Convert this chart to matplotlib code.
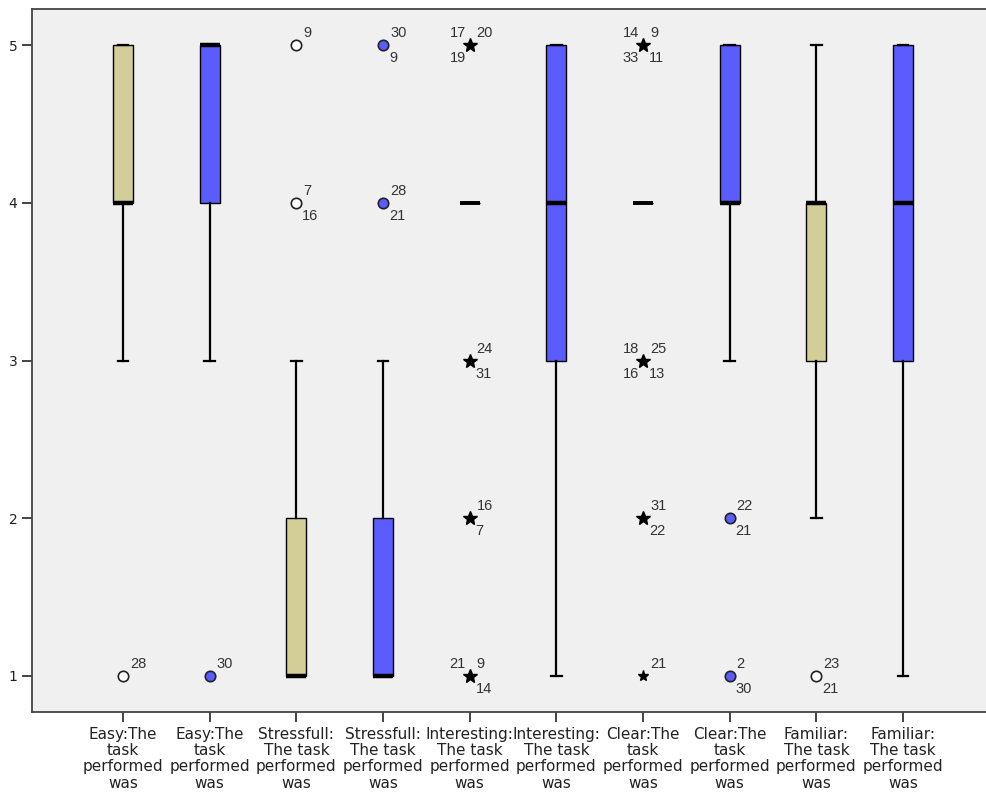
import matplotlib.pyplot as plt
import numpy as np

# box statistics (SPSS style boxplot, Likert 1-5)
labels = ["Easy:The\ntask\nperformed\nwas", "Easy:The\ntask\nperformed\nwas",
          "Stressfull:\nThe task\nperformed\nwas", "Stressfull:\nThe task\nperformed\nwas",
          "Interesting:\nThe task\nperformed\nwas", "Interesting:\nThe task\nperformed\nwas",
          "Clear:The\ntask\nperformed\nwas", "Clear:The\ntask\nperformed\nwas",
          "Familiar:\nThe task\nperformed\nwas", "Familiar:\nThe task\nperformed\nwas"]
q1 = [4, 4, 1, 1, 4, 3, 4, 4, 3, 3]
med = [4, 5, 1, 1, 4, 4, 4, 4, 4, 4]
q3 = [5, 5, 2, 2, 4, 5, 4, 5, 4, 5]
whislo = [3, 3, 1, 1, 4, 1, 4, 3, 2, 1]
whishi = [5, 5, 3, 3, 4, 5, 4, 5, 5, 5]
groups = ["tan", "blue"] * 5

# outliers: (box index, value, kind, [(case label, corner), ...])
outliers = [
    (0, 1, "o", [("28", "ur")]),
    (1, 1, "o", [("30", "ur")]),
    (2, 5, "o", [("9", "ur")]),
    (2, 4, "o", [("7", "ur"), ("16", "lr")]),
    (3, 5, "o", [("30", "ur"), ("9", "lr")]),
    (3, 4, "o", [("28", "ur"), ("21", "lr")]),
    (4, 5, "*", [("17", "ul"), ("20", "ur"), ("19", "ll")]),
    (4, 3, "*", [("24", "ur"), ("31", "lr")]),
    (4, 2, "*", [("16", "ur"), ("7", "lr")]),
    (4, 1, "*", [("21", "ul"), ("9", "ur"), ("14", "lr")]),
    (6, 5, "*", [("14", "ul"), ("9", "ur"), ("33", "ll"), ("11", "lr")]),
    (6, 3, "*", [("18", "ul"), ("25", "ur"), ("16", "ll"), ("13", "lr")]),
    (6, 2, "*", [("31", "ur"), ("22", "lr")]),
    (6, 1, "s", [("21", "ur")]),
    (7, 2, "o", [("22", "ur"), ("21", "lr")]),
    (7, 1, "o", [("2", "ur"), ("30", "lr")]),
    (8, 1, "o", [("23", "ur"), ("21", "lr")]),
]

colors = {"tan": "#d3ce97", "blue": "#5a5cfe"}
corner_fmt = {"ur": ((7, 5), "left", "bottom"), "lr": ((6, -6), "left", "top"),
              "ul": ((-4, 5), "right", "bottom"), "ll": ((-4, -6), "right", "top")}

fig = plt.figure(figsize=(9.87, 7.96), dpi=100)
ax = fig.add_axes([32 / 987, 1 - 712 / 796, 962 / 987, 703 / 796])
ax.set_facecolor("#f0f0f0")

pos = np.arange(1, len(labels) + 1)
stats = []
for i in range(len(labels)):
    stats.append(dict(med=med[i], q1=q1[i], q3=q3[i], whislo=whislo[i],
                      whishi=whishi[i], fliers=[]))
bp = ax.bxp(stats, positions=pos, widths=0.23, capwidths=0.12, patch_artist=True,
            showfliers=False,
            boxprops=dict(edgecolor="black", linewidth=1.0),
            whiskerprops=dict(color="black", linewidth=1.6),
            capprops=dict(color="black", linewidth=1.6),
            medianprops=dict(color="black", linewidth=3.2))
for patch, g in zip(bp["boxes"], groups):
    patch.set_facecolor(colors[g])
for i in range(len(labels)):
    if q1[i] == q3[i]:
        bp["medians"][i].set_linewidth(2.8)

for idx, val, kind, labs in outliers:
    x = pos[idx]
    if kind == "o":
        fc = colors["blue"] if groups[idx] == "blue" else "white"
        ax.plot(x, val, "o", ms=7.5, mfc=fc, mec="#222222", mew=1.2, zorder=4)
    elif kind == "*":
        ax.plot(x, val, "*", ms=10, color="black", zorder=4)
    else:
        ax.plot(x, val, "*", ms=8, color="black", zorder=4)
    for txt, c in labs:
        off, ha, va = corner_fmt[c]
        ax.annotate(txt, (x, val), xytext=off, textcoords="offset pixels",
                    ha=ha, va=va, fontsize=10.5, color="#333333",
                    family=["Liberation Sans", "DejaVu Sans"])

ax.set_xlim(-0.05, 11.05)
ax.set_ylim(0.77, 5.23)
ax.set_yticks([1, 2, 3, 4, 5])
ax.set_xticks(pos)
ax.set_xticklabels(labels, fontsize=11, linespacing=1.12,
                   family=["Liberation Sans Narrow", "DejaVu Sans"])
ax.tick_params(axis="both", direction="out", length=7, width=1.2, colors="#222222")
ax.tick_params(axis="y", labelsize=10)
for s in ax.spines.values():
    s.set_linewidth(1.3)
    s.set_color("#444444")

fig.savefig("out.png", dpi=100)
